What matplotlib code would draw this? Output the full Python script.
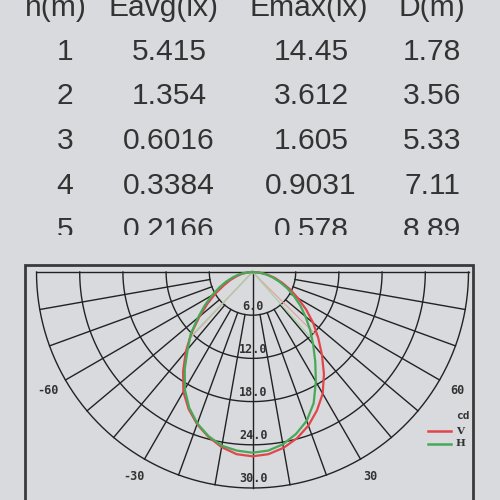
import numpy as np
import matplotlib
matplotlib.use('Agg')
import matplotlib.pyplot as plt
from matplotlib.patches import Rectangle

# tabla
headers = ['h(m)', 'Eavg(lx)', 'Emax(lx)', 'D(m)']
heights = ['1', '2', '3', '4', '5']
e_avg = ['5.415', '1.354', '0.6016', '0.3384', '0.2166']
e_max = ['14.45', '3.612', '1.605', '0.9031', '0.578']
diam = ['1.78', '3.56', '5.33', '7.11', '8.89']

# curva polar (cd), angulos de -90 a 90 cada 5 grados
angles = np.arange(-90, 91, 5)
curve_v = [0, 0.7, 1.5, 2.3, 3.3, 4.4, 5.9, 7.6, 9.6, 12.0, 14.4, 16.8, 19.2, 21.0, 22.5, 23.7, 24.7, 25.4,
           25.6,
           25.4, 24.8, 23.9, 22.7, 21.2, 19.5, 17.3, 15.0, 12.9, 11.0, 9.1, 7.3, 5.8, 4.4, 3.2, 2.1, 1.0, 0]
curve_h = [0, 0.9, 1.9, 2.8, 3.9, 5.1, 6.5, 8.1, 9.9, 12.1, 14.0, 16.4, 18.8, 20.8, 22.4, 23.6, 24.5, 24.9,
           25.1,
           24.9, 24.3, 23.3, 22.0, 20.1, 17.6, 15.2, 13.1, 11.3, 9.6, 8.1, 6.6, 5.3, 4.0, 2.9, 1.9, 0.9, 0]
rings = [6, 12, 18, 24, 30]
ring_labels = ['6.0', '12.0', '18.0', '24.0', '30.0']
angle_ticks = [-60, -30, 30, 60]

BG = '#d8dadd'
INK = '#222222'
RED = '#e0464c'
GREEN = '#47a857'

SCALE = 7.2          # px por cd
CX, CY = 252.5, 272.0


def px(x, y):
    return (x - CX) / SCALE, -(y - CY) / SCALE


fig = plt.figure(figsize=(5, 5), dpi=100, facecolor=BG)

# ---- diagrama polar ----
ax = fig.add_axes([0, 0, 1, 1])
ax.set_xlim(px(0, 0)[0], px(500, 0)[0])
ax.set_ylim(px(0, 500)[1], px(0, 0)[1])
ax.axis('off')

x0, y0 = px(25, 505)
ax.add_patch(Rectangle((x0, y0), (473 - 25) / SCALE, (505 - 265) / SCALE,
                       fill=False, ec='#3a3a3a', lw=2.0, zorder=1))

t = np.radians(np.linspace(-90, 90, 361))
for r in rings:
    ax.plot(r * np.sin(t), -r * np.cos(t), color=INK, lw=1.0, zorder=2)
for a in range(-80, 81, 10):
    if a == 0:
        continue
    ar = np.radians(a)
    ax.plot([6 * np.sin(ar), 30 * np.sin(ar)], [-6 * np.cos(ar), -30 * np.cos(ar)],
            color=INK, lw=1.0, zorder=2)
ax.plot([0, 0], [0, -30], color=INK, lw=1.0, zorder=2)
ax.plot([-30, 30], [0, 0], color=INK, lw=1.0, zorder=2)

for r, lab in zip(rings, ring_labels):
    ax.text(0.1, -r + 1.25, lab, ha='center', va='center', fontsize=8.5,
            family='DejaVu Sans Mono', fontweight='bold', color='#333333', zorder=3)
for a in angle_ticks:
    ar = np.radians(a)
    ax.text(32.8 * np.sin(ar), -32.8 * np.cos(ar), str(a), ha='center', va='center',
            fontsize=8.5, family='DejaVu Sans Mono', fontweight='bold', color='#333333')

ang = np.radians(angles)
for vals, col, light in [(curve_v, RED, '#e7a39f'), (curve_h, GREEN, '#a7cfa3')]:
    vals = np.array(vals, dtype=float)
    # lineas de medio haz
    half = vals.max() / 2
    right = angles >= 0
    a_r = np.interp(half, vals[right][::-1], angles[right][::-1])
    left = angles <= 0
    a_l = np.interp(half, vals[left], angles[left])
    for a in (a_r, a_l):
        ar = np.radians(a)
        ax.plot([0, half * np.sin(ar)], [0, -half * np.cos(ar)], color=light, lw=0.9, zorder=3)
    ax.plot(vals * np.sin(ang), -vals * np.cos(ang), color=col, lw=1.6, zorder=4,
            solid_joinstyle='round')

# leyenda
lx1, ly = px(428, 431)
lx2, _ = px(451, 431)
ax.plot([lx1, lx2], [ly, ly], color=RED, lw=1.8)
_, ly2 = px(428, 444)
ax.plot([lx1, lx2], [ly2, ly2], color=GREEN, lw=1.8)
tx, ty = px(463, 416)
ax.text(tx, ty, 'cd', ha='center', va='center', fontsize=8, family='DejaVu Sans Mono',
        fontweight='bold', color='#333333')
tx, _ = px(460.5, 0)
ax.text(tx, ly, 'V', ha='center', va='center', fontsize=7.5, family='DejaVu Serif',
        fontweight='bold', color='#333333')
ax.text(tx, ly2, 'H', ha='center', va='center', fontsize=7.5, family='DejaVu Serif',
        fontweight='bold', color='#333333')

# ---- tabla ----
tax = fig.add_axes([0, 1 - 235 / 500, 1, 235 / 500])
tax.set_xlim(0, 500)
tax.set_ylim(235, 0)
tax.axis('off')

head_x = [55.5, 163.5, 309, 432]
col_x = [65, 169, 311, 432]
row_y = [60, 104.5, 149, 193.5, 238]
fkw = dict(fontsize=21.6, family='Liberation Sans', color='#333333', ha='center',
           va='baseline', clip_on=True)
for x, h in zip(head_x, headers):
    tax.text(x, 16, h, **fkw)
for i in range(len(heights)):
    for x, v in zip(col_x, [heights[i], e_avg[i], e_max[i], diam[i]]):
        tax.text(x, row_y[i], v, **fkw)

fig.savefig('out.png', dpi=100, facecolor=BG)
